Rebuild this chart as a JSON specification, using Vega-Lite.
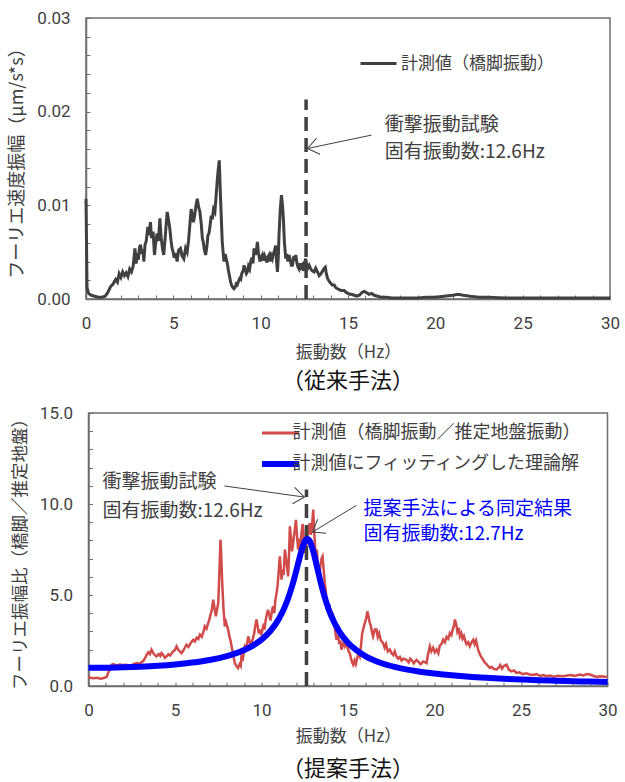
{
  "$schema": "https://vega.github.io/schema/vega-lite/v6.json",
  "background": "white",
  "padding": {"left": 8, "top": 8, "right": 2, "bottom": 0},
  "config": {
    "font": "Noto Sans CJK JP",
    "view": {"stroke": "#6e6e6e", "strokeWidth": 1.5},
    "axis": {
      "grid": false,
      "domainColor": "#6e6e6e",
      "domainWidth": 1.5,
      "tickColor": "#6e6e6e",
      "tickSize": -4,
      "tickWidth": 1,
      "labelPadding": 20,
      "labelFont": "Roboto",
      "labelFontSize": 17,
      "labelColor": "#404040",
      "labelFlush": false,
      "labelBound": false,
      "titleFont": "Noto Sans CJK JP",
      "titleFontSize": 17,
      "titleFontWeight": "normal",
      "titleColor": "#404040"
    },
    "legend": {"padding": 0},
    "title": {"font": "Noto Sans CJK JP", "fontSize": 22, "fontWeight": "normal", "color": "#111111"}
  },
  "datasets": {
    "pier": [
      {"f":0,"v":0.0107},{"f":0.03,"v":0.006},{"f":0.06,"v":0.0012},{"f":0.15,"v":0.0006},{"f":0.3,"v":0.0004},{"f":0.5,"v":0.0003},{"f":0.7,"v":0.0002},{"f":0.9,"v":0.0002},{"f":1.1,"v":0.0003},{"f":1.25,"v":0.0007},{"f":1.4,"v":0.0013},{"f":1.55,"v":0.0016},{"f":1.7,"v":0.0021},{"f":1.8,"v":0.0018},{"f":1.9,"v":0.0027},{"f":2.0,"v":0.0023},{"f":2.1,"v":0.0029},{"f":2.2,"v":0.0025},{"f":2.3,"v":0.0028},{"f":2.4,"v":0.0024},{"f":2.5,"v":0.0032},{"f":2.6,"v":0.0029},{"f":2.7,"v":0.0035},{"f":2.8,"v":0.0054},{"f":2.87,"v":0.0038},{"f":2.93,"v":0.0045},{"f":3.0,"v":0.0042},{"f":3.06,"v":0.0055},{"f":3.12,"v":0.0058},{"f":3.2,"v":0.0048},{"f":3.27,"v":0.0053},{"f":3.31,"v":0.004},{"f":3.38,"v":0.0058},{"f":3.45,"v":0.0062},{"f":3.54,"v":0.0077},{"f":3.6,"v":0.0068},{"f":3.69,"v":0.0082},{"f":3.75,"v":0.0065},{"f":3.84,"v":0.0072},{"f":3.92,"v":0.0047},{"f":3.98,"v":0.0058},{"f":4.07,"v":0.007},{"f":4.15,"v":0.0062},{"f":4.23,"v":0.0086},{"f":4.3,"v":0.0066},{"f":4.38,"v":0.0054},{"f":4.45,"v":0.0047},{"f":4.52,"v":0.0062},{"f":4.6,"v":0.0082},{"f":4.65,"v":0.0093},{"f":4.72,"v":0.0085},{"f":4.8,"v":0.0075},{"f":4.87,"v":0.0062},{"f":4.93,"v":0.0054},{"f":4.99,"v":0.005},{"f":5.05,"v":0.0044},{"f":5.12,"v":0.0049},{"f":5.22,"v":0.004},{"f":5.3,"v":0.0052},{"f":5.41,"v":0.0054},{"f":5.5,"v":0.0046},{"f":5.6,"v":0.0043},{"f":5.7,"v":0.0054},{"f":5.79,"v":0.005},{"f":5.87,"v":0.0062},{"f":5.95,"v":0.008},{"f":6.02,"v":0.0096},{"f":6.08,"v":0.009},{"f":6.15,"v":0.0082},{"f":6.21,"v":0.0088},{"f":6.3,"v":0.01},{"f":6.37,"v":0.0107},{"f":6.45,"v":0.0098},{"f":6.52,"v":0.0093},{"f":6.6,"v":0.008},{"f":6.66,"v":0.0065},{"f":6.71,"v":0.0061},{"f":6.78,"v":0.0052},{"f":6.85,"v":0.0047},{"f":6.92,"v":0.0056},{"f":6.98,"v":0.0068},{"f":7.04,"v":0.007},{"f":7.1,"v":0.0078},{"f":7.17,"v":0.0089},{"f":7.23,"v":0.0085},{"f":7.3,"v":0.0096},{"f":7.38,"v":0.0093},{"f":7.45,"v":0.011},{"f":7.52,"v":0.0128},{"f":7.58,"v":0.014},{"f":7.63,"v":0.0148},{"f":7.67,"v":0.0125},{"f":7.71,"v":0.0104},{"f":7.76,"v":0.008},{"f":7.8,"v":0.0061},{"f":7.85,"v":0.005},{"f":7.9,"v":0.004},{"f":7.97,"v":0.0048},{"f":8.03,"v":0.0043},{"f":8.09,"v":0.0038},{"f":8.15,"v":0.0031},{"f":8.22,"v":0.0024},{"f":8.28,"v":0.0018},{"f":8.35,"v":0.0014},{"f":8.42,"v":0.0012},{"f":8.47,"v":0.0011},{"f":8.55,"v":0.0013},{"f":8.6,"v":0.0016},{"f":8.66,"v":0.0015},{"f":8.73,"v":0.0019},{"f":8.8,"v":0.0022},{"f":8.86,"v":0.0021},{"f":8.93,"v":0.0028},{"f":9.0,"v":0.003},{"f":9.05,"v":0.0036},{"f":9.12,"v":0.0031},{"f":9.18,"v":0.0027},{"f":9.24,"v":0.0029},{"f":9.3,"v":0.0035},{"f":9.37,"v":0.0032},{"f":9.43,"v":0.004},{"f":9.5,"v":0.0044},{"f":9.56,"v":0.0038},{"f":9.62,"v":0.0054},{"f":9.7,"v":0.0047},{"f":9.76,"v":0.0052},{"f":9.81,"v":0.0061},{"f":9.87,"v":0.005},{"f":9.96,"v":0.004},{"f":10.03,"v":0.0044},{"f":10.1,"v":0.0047},{"f":10.17,"v":0.0041},{"f":10.23,"v":0.0046},{"f":10.29,"v":0.0043},{"f":10.36,"v":0.0039},{"f":10.42,"v":0.0045},{"f":10.48,"v":0.0047},{"f":10.55,"v":0.004},{"f":10.61,"v":0.0046},{"f":10.67,"v":0.0043},{"f":10.74,"v":0.0049},{"f":10.8,"v":0.0052},{"f":10.86,"v":0.0057},{"f":10.91,"v":0.004},{"f":10.96,"v":0.0029},{"f":11.01,"v":0.0045},{"f":11.05,"v":0.0068},{"f":11.12,"v":0.0095},{"f":11.19,"v":0.0111},{"f":11.25,"v":0.01},{"f":11.3,"v":0.0086},{"f":11.36,"v":0.006},{"f":11.44,"v":0.0043},{"f":11.5,"v":0.0048},{"f":11.56,"v":0.004},{"f":11.63,"v":0.0047},{"f":11.7,"v":0.0041},{"f":11.76,"v":0.0036},{"f":11.82,"v":0.0036},{"f":11.9,"v":0.0046},{"f":11.96,"v":0.0041},{"f":12.01,"v":0.0047},{"f":12.08,"v":0.0038},{"f":12.14,"v":0.0034},{"f":12.2,"v":0.0032},{"f":12.27,"v":0.0038},{"f":12.33,"v":0.0034},{"f":12.39,"v":0.0036},{"f":12.46,"v":0.003},{"f":12.52,"v":0.0039},{"f":12.58,"v":0.0043},{"f":12.64,"v":0.0036},{"f":12.7,"v":0.0033},{"f":12.78,"v":0.0036},{"f":12.87,"v":0.0032},{"f":12.95,"v":0.003},{"f":13.06,"v":0.0029},{"f":13.15,"v":0.0033},{"f":13.25,"v":0.0029},{"f":13.35,"v":0.0025},{"f":13.45,"v":0.0027},{"f":13.55,"v":0.003},{"f":13.64,"v":0.0033},{"f":13.7,"v":0.0034},{"f":13.76,"v":0.0027},{"f":13.83,"v":0.0022},{"f":13.92,"v":0.0019},{"f":14.0,"v":0.0017},{"f":14.1,"v":0.0015},{"f":14.21,"v":0.0015},{"f":14.3,"v":0.0012},{"f":14.4,"v":0.0011},{"f":14.5,"v":0.001},{"f":14.6,"v":0.0009},{"f":14.78,"v":0.0009},{"f":14.9,"v":0.0007},{"f":15.0,"v":0.0006},{"f":15.1,"v":0.0005},{"f":15.2,"v":0.0005},{"f":15.36,"v":0.0004},{"f":15.5,"v":0.0003},{"f":15.65,"v":0.0004},{"f":15.8,"v":0.0007},{"f":15.93,"v":0.0008},{"f":16.05,"v":0.0007},{"f":16.2,"v":0.0005},{"f":16.35,"v":0.0006},{"f":16.5,"v":0.0004},{"f":16.7,"v":0.0003},{"f":16.9,"v":0.0002},{"f":17.2,"v":0.0002},{"f":17.5,"v":0.0001},{"f":18,"v":0.0001},{"f":18.5,"v":0.0001},{"f":19,"v":0.0001},{"f":19.5,"v":0.0002},{"f":20,"v":0.0002},{"f":20.5,"v":0.0003},{"f":21,"v":0.0004},{"f":21.3,"v":0.0005},{"f":21.6,"v":0.0004},{"f":22,"v":0.0003},{"f":22.5,"v":0.0002},{"f":23,"v":0.0002},{"f":24,"v":0.0001},{"f":25,"v":0.0001},{"f":26,"v":0.0001},{"f":27,"v":0.0001},{"f":28,"v":0.0001},{"f":29,"v":0.0001},{"f":30,"v":0.0001}
    ],
    "ratio": [
      {"f":0,"v":0.55},{"f":0.1,"v":0.45},{"f":0.3,"v":0.42},{"f":0.5,"v":0.45},{"f":0.7,"v":0.4},{"f":0.9,"v":0.44},{"f":1.05,"v":0.5},{"f":1.15,"v":0.75},{"f":1.25,"v":1.0},{"f":1.33,"v":1.17},{"f":1.45,"v":1.2},{"f":1.6,"v":1.12},{"f":1.8,"v":1.18},{"f":2.0,"v":1.15},{"f":2.2,"v":1.17},{"f":2.4,"v":1.12},{"f":2.6,"v":1.2},{"f":2.77,"v":1.26},{"f":2.95,"v":1.22},{"f":3.16,"v":1.37},{"f":3.28,"v":1.55},{"f":3.35,"v":1.7},{"f":3.45,"v":1.85},{"f":3.55,"v":1.75},{"f":3.64,"v":2.0},{"f":3.75,"v":1.8},{"f":3.85,"v":1.68},{"f":3.93,"v":1.63},{"f":4.05,"v":1.75},{"f":4.15,"v":1.65},{"f":4.22,"v":1.81},{"f":4.32,"v":1.7},{"f":4.42,"v":1.55},{"f":4.51,"v":1.63},{"f":4.62,"v":1.75},{"f":4.72,"v":1.68},{"f":4.8,"v":1.78},{"f":4.89,"v":1.9},{"f":5.0,"v":1.98},{"f":5.09,"v":2.18},{"f":5.18,"v":2.0},{"f":5.28,"v":1.9},{"f":5.38,"v":1.81},{"f":5.48,"v":1.95},{"f":5.57,"v":2.1},{"f":5.66,"v":2.27},{"f":5.78,"v":2.15},{"f":5.9,"v":2.35},{"f":6.05,"v":2.54},{"f":6.15,"v":2.45},{"f":6.25,"v":2.65},{"f":6.35,"v":2.58},{"f":6.44,"v":2.82},{"f":6.55,"v":2.7},{"f":6.65,"v":3.0},{"f":6.72,"v":3.28},{"f":6.82,"v":3.15},{"f":6.92,"v":3.46},{"f":7.0,"v":3.7},{"f":7.06,"v":3.95},{"f":7.11,"v":4.1},{"f":7.16,"v":4.4},{"f":7.21,"v":4.74},{"f":7.28,"v":4.3},{"f":7.36,"v":3.83},{"f":7.43,"v":4.2},{"f":7.5,"v":4.56},{"f":7.55,"v":5.8},{"f":7.6,"v":7.2},{"f":7.63,"v":8.04},{"f":7.68,"v":7.0},{"f":7.73,"v":5.65},{"f":7.8,"v":4.3},{"f":7.88,"v":3.28},{"f":7.95,"v":3.5},{"f":8.01,"v":3.3},{"f":8.07,"v":3.1},{"f":8.15,"v":2.7},{"f":8.21,"v":2.5},{"f":8.27,"v":2.18},{"f":8.36,"v":1.7},{"f":8.46,"v":1.26},{"f":8.55,"v":1.1},{"f":8.65,"v":0.99},{"f":8.73,"v":1.2},{"f":8.8,"v":1.1},{"f":8.84,"v":1.63},{"f":8.92,"v":1.5},{"f":9.0,"v":1.95},{"f":9.04,"v":2.18},{"f":9.12,"v":2.05},{"f":9.18,"v":2.4},{"f":9.23,"v":2.73},{"f":9.3,"v":2.5},{"f":9.36,"v":2.25},{"f":9.42,"v":2.36},{"f":9.5,"v":2.6},{"f":9.58,"v":2.9},{"f":9.64,"v":3.3},{"f":9.71,"v":3.65},{"f":9.78,"v":3.3},{"f":9.84,"v":2.9},{"f":9.9,"v":3.1},{"f":9.97,"v":2.8},{"f":10.03,"v":3.0},{"f":10.1,"v":3.28},{"f":10.17,"v":3.1},{"f":10.24,"v":3.6},{"f":10.31,"v":3.95},{"f":10.38,"v":4.19},{"f":10.45,"v":3.9},{"f":10.52,"v":3.6},{"f":10.6,"v":4.1},{"f":10.67,"v":4.38},{"f":10.74,"v":4.0},{"f":10.8,"v":4.7},{"f":10.87,"v":5.1},{"f":10.93,"v":5.5},{"f":10.98,"v":6.1},{"f":11.03,"v":6.8},{"f":11.06,"v":7.12},{"f":11.11,"v":6.5},{"f":11.16,"v":5.84},{"f":11.22,"v":6.4},{"f":11.28,"v":6.1},{"f":11.35,"v":7.49},{"f":11.42,"v":7.0},{"f":11.48,"v":6.5},{"f":11.54,"v":6.02},{"f":11.59,"v":7.2},{"f":11.64,"v":8.77},{"f":11.7,"v":8.2},{"f":11.76,"v":7.4},{"f":11.83,"v":7.85},{"f":11.9,"v":8.4},{"f":11.99,"v":9.13},{"f":12.05,"v":8.3},{"f":12.12,"v":7.49},{"f":12.2,"v":8.1},{"f":12.25,"v":7.6},{"f":12.31,"v":8.4},{"f":12.38,"v":8.9},{"f":12.45,"v":8.0},{"f":12.52,"v":7.3},{"f":12.6,"v":7.85},{"f":12.66,"v":8.2},{"f":12.72,"v":8.6},{"f":12.79,"v":8.95},{"f":12.85,"v":8.3},{"f":12.92,"v":8.8},{"f":12.99,"v":9.69},{"f":13.05,"v":8.4},{"f":13.1,"v":7.6},{"f":13.14,"v":6.93},{"f":13.2,"v":7.5},{"f":13.26,"v":6.5},{"f":13.33,"v":5.84},{"f":13.4,"v":6.6},{"f":13.47,"v":7.0},{"f":13.53,"v":7.12},{"f":13.6,"v":6.3},{"f":13.66,"v":5.65},{"f":13.72,"v":5.2},{"f":13.78,"v":4.6},{"f":13.85,"v":4.19},{"f":13.92,"v":4.5},{"f":14.0,"v":4.0},{"f":14.07,"v":3.7},{"f":14.14,"v":3.83},{"f":14.22,"v":3.3},{"f":14.28,"v":2.9},{"f":14.34,"v":2.54},{"f":14.42,"v":2.8},{"f":14.5,"v":2.3},{"f":14.56,"v":2.5},{"f":14.62,"v":2.0},{"f":14.7,"v":2.2},{"f":14.77,"v":2.5},{"f":14.84,"v":2.2},{"f":14.91,"v":2.36},{"f":14.98,"v":2.1},{"f":15.04,"v":1.9},{"f":15.1,"v":1.81},{"f":15.18,"v":1.5},{"f":15.24,"v":1.3},{"f":15.3,"v":1.17},{"f":15.38,"v":1.4},{"f":15.45,"v":1.2},{"f":15.52,"v":1.5},{"f":15.6,"v":1.8},{"f":15.68,"v":1.63},{"f":15.75,"v":2.2},{"f":15.82,"v":2.9},{"f":15.9,"v":3.2},{"f":15.97,"v":3.46},{"f":16.05,"v":3.7},{"f":16.12,"v":4.1},{"f":16.17,"v":3.9},{"f":16.25,"v":3.5},{"f":16.32,"v":3.3},{"f":16.4,"v":2.9},{"f":16.45,"v":2.73},{"f":16.55,"v":3.1},{"f":16.65,"v":3.1},{"f":16.72,"v":2.7},{"f":16.8,"v":2.9},{"f":16.9,"v":2.5},{"f":17.03,"v":2.36},{"f":17.12,"v":2.1},{"f":17.2,"v":2.3},{"f":17.3,"v":1.9},{"f":17.42,"v":2.0},{"f":17.52,"v":1.8},{"f":17.62,"v":1.7},{"f":17.7,"v":1.9},{"f":17.8,"v":1.63},{"f":17.9,"v":1.5},{"f":18.0,"v":1.6},{"f":18.1,"v":1.4},{"f":18.2,"v":1.5},{"f":18.38,"v":1.44},{"f":18.5,"v":1.3},{"f":18.6,"v":1.5},{"f":18.7,"v":1.4},{"f":18.8,"v":1.25},{"f":18.96,"v":1.44},{"f":19.1,"v":1.3},{"f":19.2,"v":1.2},{"f":19.35,"v":1.35},{"f":19.54,"v":1.26},{"f":19.62,"v":1.7},{"f":19.73,"v":2.18},{"f":19.82,"v":1.9},{"f":19.92,"v":2.1},{"f":20.02,"v":1.85},{"f":20.12,"v":2.0},{"f":20.22,"v":1.8},{"f":20.3,"v":2.2},{"f":20.4,"v":2.3},{"f":20.5,"v":2.54},{"f":20.6,"v":2.4},{"f":20.7,"v":2.7},{"f":20.8,"v":2.6},{"f":20.89,"v":2.91},{"f":20.98,"v":2.8},{"f":21.05,"v":3.1},{"f":21.12,"v":3.3},{"f":21.18,"v":3.65},{"f":21.25,"v":3.4},{"f":21.32,"v":3.0},{"f":21.4,"v":3.2},{"f":21.47,"v":2.73},{"f":21.55,"v":2.9},{"f":21.62,"v":2.6},{"f":21.7,"v":2.75},{"f":21.76,"v":2.54},{"f":21.85,"v":2.3},{"f":21.95,"v":2.4},{"f":22.04,"v":2.18},{"f":22.14,"v":2.4},{"f":22.24,"v":2.54},{"f":22.32,"v":2.3},{"f":22.4,"v":2.5},{"f":22.52,"v":2.0},{"f":22.6,"v":1.8},{"f":22.7,"v":1.6},{"f":22.81,"v":1.44},{"f":22.9,"v":1.3},{"f":23.0,"v":1.2},{"f":23.1,"v":1.1},{"f":23.2,"v":0.99},{"f":23.3,"v":1.05},{"f":23.4,"v":0.95},{"f":23.58,"v":0.9},{"f":23.7,"v":1.0},{"f":23.8,"v":1.15},{"f":23.9,"v":0.95},{"f":24.0,"v":1.1},{"f":24.16,"v":1.17},{"f":24.3,"v":0.9},{"f":24.45,"v":0.8},{"f":24.6,"v":0.85},{"f":24.74,"v":0.72},{"f":24.9,"v":0.75},{"f":25.1,"v":0.65},{"f":25.3,"v":0.7},{"f":25.5,"v":0.63},{"f":25.7,"v":0.6},{"f":25.9,"v":0.65},{"f":26.1,"v":0.55},{"f":26.3,"v":0.6},{"f":26.47,"v":0.54},{"f":26.7,"v":0.58},{"f":26.9,"v":0.5},{"f":27.1,"v":0.56},{"f":27.43,"v":0.54},{"f":27.7,"v":0.58},{"f":27.9,"v":0.6},{"f":28.1,"v":0.55},{"f":28.4,"v":0.63},{"f":28.6,"v":0.58},{"f":28.8,"v":0.66},{"f":28.97,"v":0.63},{"f":29.2,"v":0.55},{"f":29.4,"v":0.5},{"f":29.55,"v":0.54},{"f":29.75,"v":0.52},{"f":30,"v":0.5}
    ],
    "fit": [
      {"f":0,"v":1.0},{"f":1,"v":1.006},{"f":2,"v":1.025},{"f":3,"v":1.059},{"f":4,"v":1.11},{"f":5,"v":1.183},{"f":6,"v":1.287},{"f":7,"v":1.43},{"f":8,"v":1.644},{"f":8.5,"v":1.79},{"f":9,"v":1.978},{"f":9.5,"v":2.22},{"f":10,"v":2.549},{"f":10.5,"v":3.007},{"f":11,"v":3.678},{"f":11.5,"v":4.714},{"f":11.8,"v":5.59},{"f":12,"v":6.297},{"f":12.2,"v":7.04},{"f":12.4,"v":7.7},{"f":12.5,"v":7.94},{"f":12.6,"v":8.06},{"f":12.7,"v":8.06},{"f":12.8,"v":7.94},{"f":12.9,"v":7.69},{"f":13.0,"v":7.37},{"f":13.2,"v":6.58},{"f":13.5,"v":5.4},{"f":13.75,"v":4.58},{"f":14,"v":3.92},{"f":14.5,"v":2.99},{"f":15,"v":2.374},{"f":15.5,"v":1.951},{"f":16,"v":1.646},{"f":17,"v":1.236},{"f":18,"v":0.98},{"f":19,"v":0.81},{"f":20,"v":0.69},{"f":21,"v":0.59},{"f":22,"v":0.51},{"f":23,"v":0.45},{"f":24,"v":0.4},{"f":25,"v":0.36},{"f":26,"v":0.32},{"f":27,"v":0.29},{"f":28,"v":0.265},{"f":29,"v":0.245},{"f":30,"v":0.225}
    ]
  },
  "bounds": "flush",
  "center": true,
  "spacing": 114,
  "resolve": {"scale": {"color": "independent", "x": "independent", "y": "independent"}, "legend": {"color": "independent"}, "axis": {"x": "independent", "y": "independent"}},
  "vconcat": [
    {
      "width": 524,
      "height": 281,
      "title": {"text": "（従来手法）", "orient": "bottom", "offset": 11},
      "resolve": {"axis": {"x": "independent", "y": "independent"}},
      "layer": [
        {
          "data": {"name": "pier"},
          "mark": {"type": "line", "strokeWidth": 3, "interpolate": "linear"},
          "encoding": {
            "x": {"field": "f", "type": "quantitative", "scale": {"domain": [0, 30], "nice": false},
                  "axis": {"title": "振動数（Hz）", "orient": "bottom", "titlePadding": 13, "values": [0,5,10,15,20,25,30]}},
            "y": {"field": "v", "type": "quantitative", "scale": {"domain": [0, 0.03], "nice": false},
                  "axis": {"title": "フーリエ速度振幅（μm/s*s）", "orient": "left", "titleFontSize": 18, "titlePadding": 10,
                           "values": [0, 0.01, 0.02, 0.03], "format": ".2f"}},
            "color": {"datum": "計測値（橋脚振動）", "type": "nominal",
                      "scale": {"domain": ["計測値（橋脚振動）"], "range": ["#404040"]},
                      "legend": {"orient": "none", "legendX": 273, "legendY": 26, "title": null,
                                 "symbolType": "stroke", "symbolSize": 1296, "symbolStrokeWidth": 3,
                                 "labelFontSize": 17, "labelColor": "#404040", "labelOffset": 3, "labelLimit": 400,
                                 "labelFont": "Noto Sans CJK JP"}}
          }
        },
        {
          "data": {"values": [{"f": 12.6, "v": 0, "v2": 0.0213}]},
          "mark": {"type": "rule", "strokeDash": [14, 7], "strokeWidth": 3.5, "color": "#404040"},
          "encoding": {
            "x": {"field": "f", "type": "quantitative",
                  "axis": {"title": null, "orient": "bottom", "labels": false, "domain": false,
                           "values": [0,1,2,3,4,6,7,8,9,11,12,13,14,16,17,18,19,21,22,23,24,26,27,28,29]}},
            "y": {"field": "v", "type": "quantitative",
                  "axis": {"title": null, "orient": "left", "labels": false, "domain": false,
                           "values": [0.002,0.004,0.006,0.008,0.012,0.014,0.016,0.018,0.022,0.024,0.026,0.028]}},
            "y2": {"field": "v2"}
          }
        },
        {
          "data": {"values": [{"f": 16.35, "v": 0.0175, "f2": 12.68, "v2": 0.01607}]},
          "mark": {"type": "rule", "strokeWidth": 1, "color": "#404040"},
          "encoding": {
            "x": {"field": "f", "type": "quantitative", "axis": null},
            "y": {"field": "v", "type": "quantitative", "axis": null},
            "x2": {"field": "f2"},
            "y2": {"field": "v2"}
          }
        },
        {
          "data": {"values": [{"f": 12.68, "v": 0.01607}]},
          "mark": {"type": "point", "shape": "M -1 -0.75 L 0 0 L -1 0.75", "filled": false, "angle": 168.2, "size": 484, "strokeWidth": 1, "color": "#404040", "opacity": 1},
          "encoding": {
            "x": {"field": "f", "type": "quantitative", "axis": null},
            "y": {"field": "v", "type": "quantitative", "axis": null}
          }
        },
        {
          "data": {"values": [{"f": 17.1, "v": 0.0186, "t": "衝撃振動試験"}, {"f": 17.1, "v": 0.0157, "t": "固有振動数:12.6Hz"}]},
          "mark": {"type": "text", "align": "left", "baseline": "middle", "fontSize": 19, "color": "#404040"},
          "encoding": {
            "x": {"field": "f", "type": "quantitative", "axis": null},
            "y": {"field": "v", "type": "quantitative", "axis": null},
            "text": {"field": "t"}
          }
        }
      ]
    },
    {
      "width": 519,
      "height": 273,
      "title": {"text": "（提案手法）", "orient": "bottom", "offset": 15},
      "resolve": {"axis": {"x": "independent", "y": "independent"}},
      "layer": [
        {
          "data": {"name": "ratio"},
          "mark": {"type": "line", "strokeWidth": 2.5, "interpolate": "linear"},
          "encoding": {
            "x": {"field": "f", "type": "quantitative", "scale": {"domain": [0, 30], "nice": false},
                  "axis": {"title": "振動数（Hz）", "orient": "bottom", "titlePadding": 10, "values": [0,5,10,15,20,25,30]}},
            "y": {"field": "v", "type": "quantitative", "scale": {"domain": [0, 15], "nice": false},
                  "axis": {"title": "フーリエ振幅比（橋脚／推定地盤）", "orient": "left", "titleFontSize": 17.5, "titlePadding": 10,
                           "values": [0, 5, 10, 15], "format": ".1f"}},
            "color": {"datum": "計測値（橋脚振動／推定地盤振動）", "type": "nominal",
                      "scale": {"domain": ["計測値（橋脚振動／推定地盤振動）", "計測値にフィッティングした理論解"], "range": ["#d24b4b", "#0000ff"]},
                      "legend": {"orient": "none", "legendX": 183, "legendY": 11, "title": null,
                                 "symbolType": "stroke", "symbolSize": 1369, "symbolStrokeWidth": 3,
                                 "rowPadding": 10, "labelLimit": 400,
                                 "labelFontSize": 18, "labelColor": "#404040", "labelOffset": 3,
                                 "labelFont": "Noto Sans CJK JP",
                                 "encode": {"symbols": {"update": {"strokeWidth": {"signal": "datum.value === '計測値にフィッティングした理論解' ? 6 : 3"}}}}}}
          }
        },
        {
          "data": {"values": [{"f": 12.6, "v": 0, "v2": 10.79}]},
          "mark": {"type": "rule", "strokeDash": [14, 7], "strokeWidth": 3.5, "color": "#404040"},
          "encoding": {
            "x": {"field": "f", "type": "quantitative",
                  "axis": {"title": null, "orient": "bottom", "labels": false, "domain": false,
                           "values": [0,1,2,3,4,6,7,8,9,11,12,13,14,16,17,18,19,21,22,23,24,26,27,28,29]}},
            "y": {"field": "v", "type": "quantitative",
                  "axis": {"title": null, "orient": "left", "labels": false, "domain": false,
                           "values": [1,2,3,4,6,7,8,9,11,12,13,14]}},
            "y2": {"field": "v2"}
          }
        },
        {
          "data": {"name": "fit"},
          "mark": {"type": "line", "strokeWidth": 6, "interpolate": "monotone"},
          "encoding": {
            "x": {"field": "f", "type": "quantitative", "axis": null},
            "y": {"field": "v", "type": "quantitative", "axis": null},
            "color": {"datum": "計測値にフィッティングした理論解", "type": "nominal"}
          }
        },
        {
          "data": {"values": [{"f": 7.86, "v": 10.99, "f2": 12.48, "v2": 10.38}, {"f": 15.49, "v": 9.93, "f2": 12.95, "v2": 8.46}]},
          "mark": {"type": "rule", "strokeWidth": 1, "color": "#404040"},
          "encoding": {
            "x": {"field": "f", "type": "quantitative", "axis": null},
            "y": {"field": "v", "type": "quantitative", "axis": null},
            "x2": {"field": "f2"},
            "y2": {"field": "v2"}
          }
        },
        {
          "data": {"values": [{"f": 12.48, "v": 10.38}]},
          "mark": {"type": "point", "shape": "M -1 -0.75 L 0 0 L -1 0.75", "filled": false, "angle": 7.8, "size": 484, "strokeWidth": 1, "color": "#404040", "opacity": 1},
          "encoding": {
            "x": {"field": "f", "type": "quantitative", "axis": null},
            "y": {"field": "v", "type": "quantitative", "axis": null}
          }
        },
        {
          "data": {"values": [{"f": 12.95, "v": 8.46}]},
          "mark": {"type": "point", "shape": "M -1 -0.75 L 0 0 L -1 0.75", "filled": false, "angle": 148.7, "size": 484, "strokeWidth": 1, "color": "#404040", "opacity": 1},
          "encoding": {
            "x": {"field": "f", "type": "quantitative", "axis": null},
            "y": {"field": "v", "type": "quantitative", "axis": null}
          }
        },
        {
          "data": {"values": [{"f": 0.81, "v": 11.2, "t": "衝撃振動試験"}, {"f": 0.81, "v": 9.62, "t": "固有振動数:12.6Hz"}]},
          "mark": {"type": "text", "align": "left", "baseline": "middle", "fontSize": 19, "color": "#404040"},
          "encoding": {
            "x": {"field": "f", "type": "quantitative", "axis": null},
            "y": {"field": "v", "type": "quantitative", "axis": null},
            "text": {"field": "t"}
          }
        },
        {
          "data": {"values": [{"f": 15.9, "v": 9.74, "t": "提案手法による同定結果"}, {"f": 15.9, "v": 8.34, "t": "固有振動数:12.7Hz"}]},
          "mark": {"type": "text", "align": "left", "baseline": "middle", "fontSize": 19, "color": "#0000ff"},
          "encoding": {
            "x": {"field": "f", "type": "quantitative", "axis": null},
            "y": {"field": "v", "type": "quantitative", "axis": null},
            "text": {"field": "t"}
          }
        }
      ]
    }
  ]
}
